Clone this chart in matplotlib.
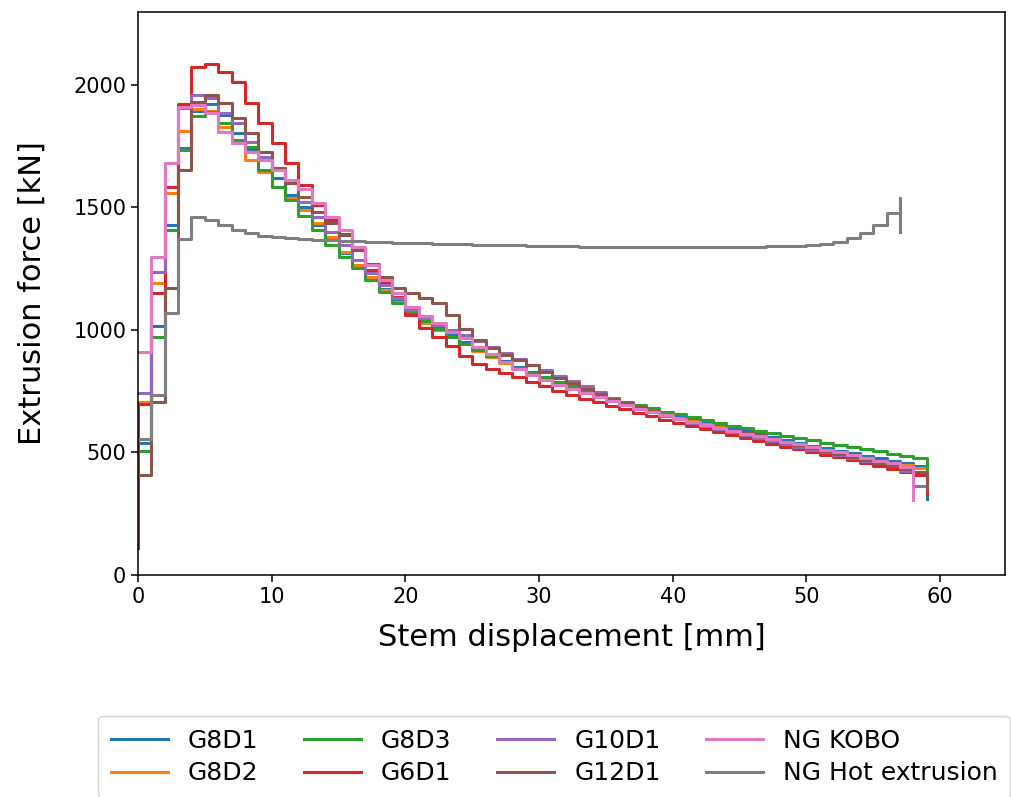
import numpy as np
import matplotlib.pyplot as plt

# Extrusion force [kN] per 1 mm of stem displacement
labels = ["G8D1", "G8D2", "G8D3", "G6D1", "G10D1", "G12D1", "NG KOBO", "NG Hot extrusion"]
colors = ["tab:blue", "tab:orange", "tab:green", "tab:red",
          "tab:purple", "tab:brown", "tab:pink", "tab:gray"]

g8d1 = [539, 1016, 1429, 1743, 1895, 1922, 1878, 1803, 1735, 1694, 1619, 1551, 1503, 1429, 1370,
        1315, 1262, 1214, 1168, 1122, 1078, 1040, 1008, 978, 950, 922, 896, 872, 850, 828,
        808, 788, 770, 752, 735, 718, 702, 688, 674, 661, 648, 635, 622, 610, 598,
        586, 574, 562, 550, 539, 528, 517, 506, 496, 486, 476, 466, 455, 445]
g8d2 = [707, 1191, 1561, 1812, 1900, 1895, 1830, 1762, 1694, 1646, 1585, 1538, 1488, 1435, 1378,
        1320, 1265, 1218, 1165, 1115, 1070, 1030, 1000, 970, 942, 915, 890, 866, 844, 823,
        803, 784, 766, 748, 731, 714, 698, 683, 669, 655, 641, 628, 615, 602, 589,
        577, 565, 553, 541, 530, 519, 508, 497, 487, 477, 467, 457, 447, 437]
g8d3 = [507, 973, 1408, 1735, 1873, 1888, 1843, 1776, 1748, 1653, 1585, 1530, 1466, 1408, 1347,
        1299, 1252, 1204, 1156, 1109, 1070, 1035, 1002, 972, 944, 917, 892, 868, 846, 826,
        806, 788, 770, 753, 737, 722, 707, 693, 680, 667, 655, 643, 632, 621, 610,
        599, 589, 579, 569, 559, 549, 540, 531, 522, 513, 504, 495, 486, 477]
g6d1 = [697, 1150, 1584, 1922, 2075, 2085, 2054, 2014, 1925, 1844, 1762, 1680, 1590, 1510, 1449,
        1390, 1327, 1245, 1190, 1136, 1060, 1010, 970, 935, 895, 862, 842, 825, 807, 789,
        770, 752, 736, 720, 705, 690, 676, 661, 647, 633, 619, 606, 594, 582, 570,
        558, 546, 535, 524, 513, 502, 491, 480, 468, 456, 444, 432, 421, 410]
g10d1 = [742, 1238, 1680, 1906, 1959, 1946, 1884, 1843, 1769, 1707, 1660, 1599, 1524, 1463, 1401,
         1347, 1286, 1231, 1184, 1129, 1082, 1048, 1020, 1000, 980, 955, 930, 905, 880, 858,
         836, 814, 792, 772, 745, 722, 700, 680, 664, 650, 636, 622, 609, 596, 584,
         572, 560, 548, 536, 524, 512, 500, 489, 478, 467, 456, 445, 425, 365]
g12d1 = [410, 707, 1171, 1653, 1930, 1959, 1925, 1864, 1803, 1728, 1660, 1599, 1544, 1483, 1435,
         1388, 1327, 1270, 1218, 1171, 1150, 1129, 1109, 1061, 1003, 959, 925, 898, 877, 857,
         830, 805, 782, 760, 740, 720, 702, 685, 668, 653, 638, 624, 612, 600, 592,
         582, 570, 556, 543, 530, 518, 506, 494, 482, 470, 458, 446, 434, 422]
ng_kobo = [911, 1298, 1680, 1910, 1918, 1884, 1810, 1762, 1728, 1694, 1653, 1612, 1575, 1517, 1463,
           1408, 1340, 1265, 1205, 1150, 1092, 1058, 1027, 993, 966, 932, 900, 868, 840, 816,
           795, 776, 758, 741, 725, 709, 694, 679, 665, 651, 638, 625, 613, 601, 589,
           577, 566, 555, 544, 533, 522, 511, 500, 489, 478, 467, 456, 440]
ng_hot = [555, 735, 1069, 1371, 1463, 1450, 1430, 1408, 1395, 1385, 1380, 1375, 1372, 1369, 1366,
          1364, 1362, 1360, 1358, 1356, 1354, 1353, 1351, 1350, 1349, 1348, 1347, 1346, 1345, 1344,
          1343, 1342, 1341, 1340, 1340, 1339, 1338, 1338, 1337, 1337, 1337, 1337, 1337, 1338, 1338,
          1339, 1340, 1341, 1342, 1344, 1347, 1352, 1360, 1374, 1395, 1429, 1476]

series = [g8d1, g8d2, g8d3, g6d1, g10d1, g12d1, ng_kobo, ng_hot]
start_vals = [539, 707, 507, 110, 742, 400, 911, 555]
end_x = [59, 59, 59, 59, 59, 59, 58, 57]
tails = [[310], [400], [340], [330], [365], [350], [306], [1538, 1400]]

fig = plt.figure(figsize=(10.11, 7.97), dpi=100)
ax = fig.add_axes([0.1365, 0.2786, 0.8576, 0.7064])

for vals, s0, xe, tail, lab, col in zip(series, start_vals, end_x, tails, labels, colors):
    n = len(vals)
    x = [0] + list(range(n)) + [xe] * (len(tail) + 1)
    y = [s0] + vals + [vals[-1]] + tail
    ax.plot(x, y, drawstyle="steps-post", color=col, lw=2.2, label=lab)

ax.set_xlim(0, 64.85)
ax.set_ylim(0, 2298)
ax.set_xticks([0, 10, 20, 30, 40, 50, 60])
ax.set_yticks([0, 500, 1000, 1500, 2000])
ax.tick_params(labelsize=15, width=1.1, length=5)
for sp in ax.spines.values():
    sp.set_linewidth(1.1)
ax.set_xlabel("Stem displacement [mm]", fontsize=22, labelpad=12)
ax.set_ylabel("Extrusion force [kN]", fontsize=22, labelpad=19)

ax.legend(loc="upper left", bbox_to_anchor=(98 / 1011, 1 - 716 / 797),
          bbox_transform=fig.transFigure, ncol=4, fontsize=18, borderaxespad=0,
          labelspacing=0.36, handlelength=2.3, columnspacing=1.8, borderpad=0.5)

fig.savefig("out.png", dpi=100)
